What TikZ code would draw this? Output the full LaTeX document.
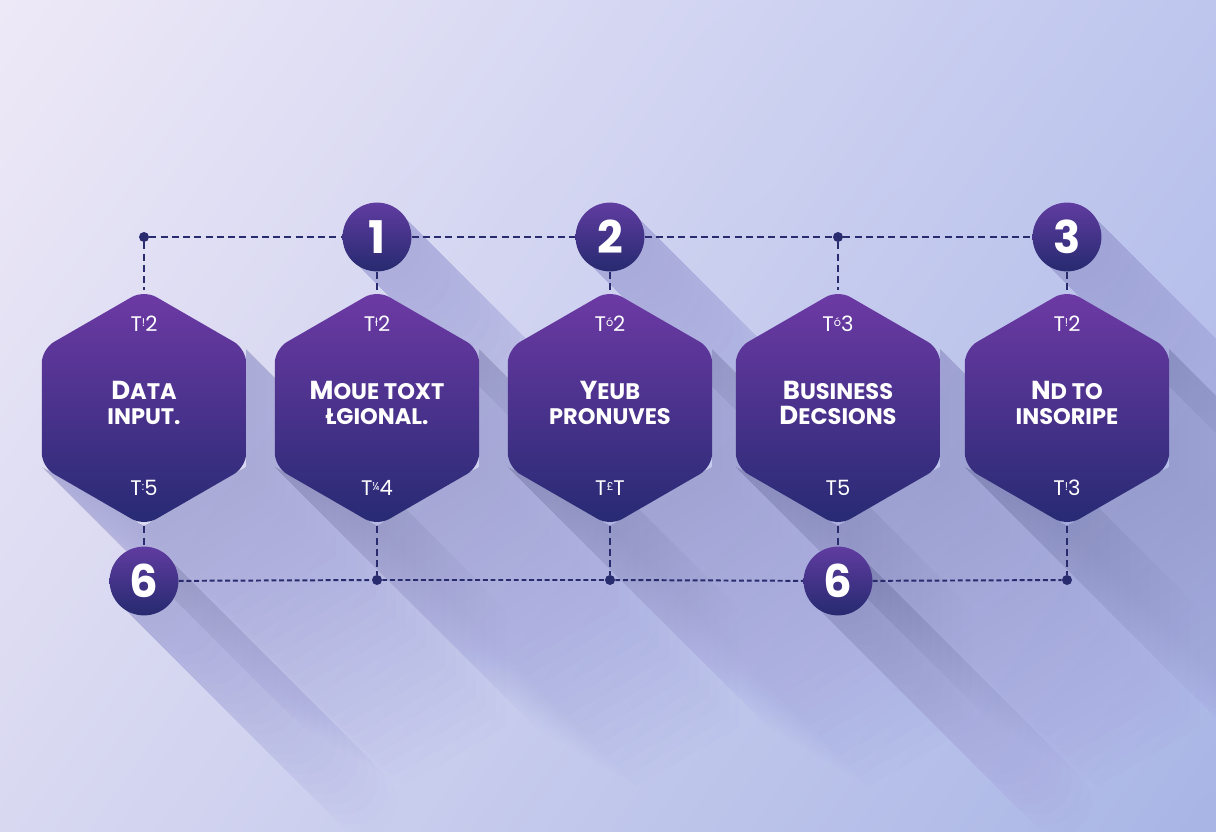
\documentclass[tikz,border=0pt]{standalone}
\usepackage{fontspec}
\setmainfont{Poppins}
\usepackage{tikz}
\usetikzlibrary{shapes.geometric,shadings}

\definecolor{hextop}{RGB}{110,58,165}
\definecolor{hexbot}{RGB}{38,42,115}
\definecolor{numtop}{RGB}{96,60,160}
\definecolor{numbot}{RGB}{38,42,112}
\definecolor{dashcol}{RGB}{40,44,110}
\definecolor{shadowcol}{RGB}{50,50,135}
\definecolor{bgtl}{RGB}{238,233,247}
\definecolor{bgtr}{RGB}{190,198,238}
\definecolor{bgbl}{RGB}{216,216,241}
\definecolor{bgbr}{RGB}{168,181,229}

\newcommand{\capfirst}[2]{{\fontsize{18.5}{18}\selectfont #1}#2}
\newcommand{\tlab}[2]{T\raisebox{0.45ex}{\fontsize{8}{8}\selectfont #1}#2}
\newcommand{\hexshadow}[2]{\foreach \len in {10,20,...,260} {\fill[shadowcol, opacity=0.0065] (#1+102,#2-59) -- ++(\len,\len) -- ++(0,118) -- ++(-102,59) -- ++(-102,-59) -- (#1-102,#2+59) -- (#1,#2+118) -- (#1+102,#2+59) -- cycle;}}
\newcommand{\numshadow}[2]{\foreach \len in {10,20,...,220} {\draw[shadowcol, opacity=0.008, line width=48pt, line cap=round] (#1,#2) -- ++(\len,\len);}}

\tikzset{
  hexnode/.style={regular polygon, regular polygon sides=6, shape border rotate=30, minimum size=5.9cm, inner sep=0pt, rounded corners=10pt, top color=hextop, bottom color=hexbot, draw=none},
  numnode/.style={circle, minimum size=1.72cm, inner sep=0pt, top color=numtop, bottom color=numbot, text=white, font=\bfseries\fontsize{32}{32}\selectfont},
  dotnode/.style={circle, fill=dashcol, minimum size=0.25cm, inner sep=0pt},
  hextitle/.style={text=white, align=center, font=\bfseries\fontsize{16}{18}\selectfont},
  tlabel/.style={text=white, font=\fontsize{15}{15}\selectfont},
  dashlink/.style={dashcol, line width=1.4pt, dash pattern=on 5pt off 3pt},
  finelink/.style={dashcol, line width=1.4pt, dash pattern=on 3.5pt off 2pt}
}

\begin{document}
\begin{tikzpicture}[x=0.025cm, y=-0.025cm]
        \useasboundingbox (0,0) rectangle (1216,832);
        \shade[upper left=bgtl, upper right=bgtr, lower left=bgbl, lower right=bgbr] (0,0) rectangle (1216,832);

        % long shadows
        \hexshadow{144}{408} \hexshadow{377}{408} \hexshadow{610}{408}
        \hexshadow{838}{408} \hexshadow{1067}{408}
        \numshadow{377}{237} \numshadow{610}{237} \numshadow{1067}{237}
        \numshadow{144}{581} \numshadow{838}{581}

        % hexagons
        \node[hexnode] (h1) at (144, 408) {};
        \node[hexnode] (h2) at (377, 408) {};
        \node[hexnode] (h3) at (610, 408) {};
        \node[hexnode] (h4) at (838, 408) {};
        \node[hexnode] (h5) at (1067, 408) {};

        \node[hextitle] (t1) at (144, 403) {\capfirst{D}{ATA}\\INPUT.};
        \node[hextitle] (t2) at (377, 403) {\capfirst{M}{OUE TOXT}\\ŁGIONAL.};
        \node[hextitle] (t3) at (610, 403) {\capfirst{Y}{EUB}\\PRONUVES};
        \node[hextitle] (t4) at (838, 403) {\capfirst{B}{USINESS}\\\capfirst{D}{ECSIONS}};
        \node[hextitle] (t5) at (1067, 403) {\capfirst{N}{D TO}\\INSORIPE};

        \node[tlabel] (h1top) at (144, 324) {\tlab{!}{2}};
        \node[tlabel] (h1bot) at (144, 488) {\tlab{:}{5}};
        \node[tlabel] (h2top) at (377, 324) {\tlab{ł}{2}};
        \node[tlabel] (h2bot) at (377, 488) {\tlab{¼}{4}};
        \node[tlabel] (h3top) at (610, 324) {\tlab{ó}{2}};
        \node[tlabel] (h3bot) at (610, 488) {\tlab{£}{T}};
        \node[tlabel] (h4top) at (838, 324) {\tlab{ó}{3}};
        \node[tlabel] (h4bot) at (838, 488) {T5};
        \node[tlabel] (h5top) at (1067, 324) {\tlab{!}{2}};
        \node[tlabel] (h5bot) at (1067, 488) {\tlab{!}{3}};

        % numbered circles and dots
        \node[numnode] (c1) at (377, 237) {1};
        \node[numnode] (c2) at (610, 237) {2};
        \node[numnode] (c3) at (1067, 237) {3};
        \node[numnode] (c6a) at (144, 581) {6};
        \node[numnode] (c6b) at (838, 581) {6};

        \node[dotnode] (d1) at (144, 237) {};
        \node[dotnode] (d2) at (838, 237) {};
        \node[dotnode] (d3) at (377, 580) {};
        \node[dotnode] (d4) at (610, 580) {};
        \node[dotnode] (d5) at (1067, 580) {};

        % connectors
        \draw[dashlink] (d1) -- (c1) -- (c2) -- (d2) -- (c3);
        \draw[dashlink] (d1) -- (h1) (c1) -- (h2) (c2) -- (h3) (d2) -- (h4) (c3) -- (h5);
        \draw[finelink] (c6a) -- (d3) -- (d4) -- (c6b) -- (d5);
        \draw[dashlink] (h1) -- (c6a) (h2) -- (d3) (h3) -- (d4) (h4) -- (c6b) (h5) -- (d5);
\end{tikzpicture}
\end{document}
